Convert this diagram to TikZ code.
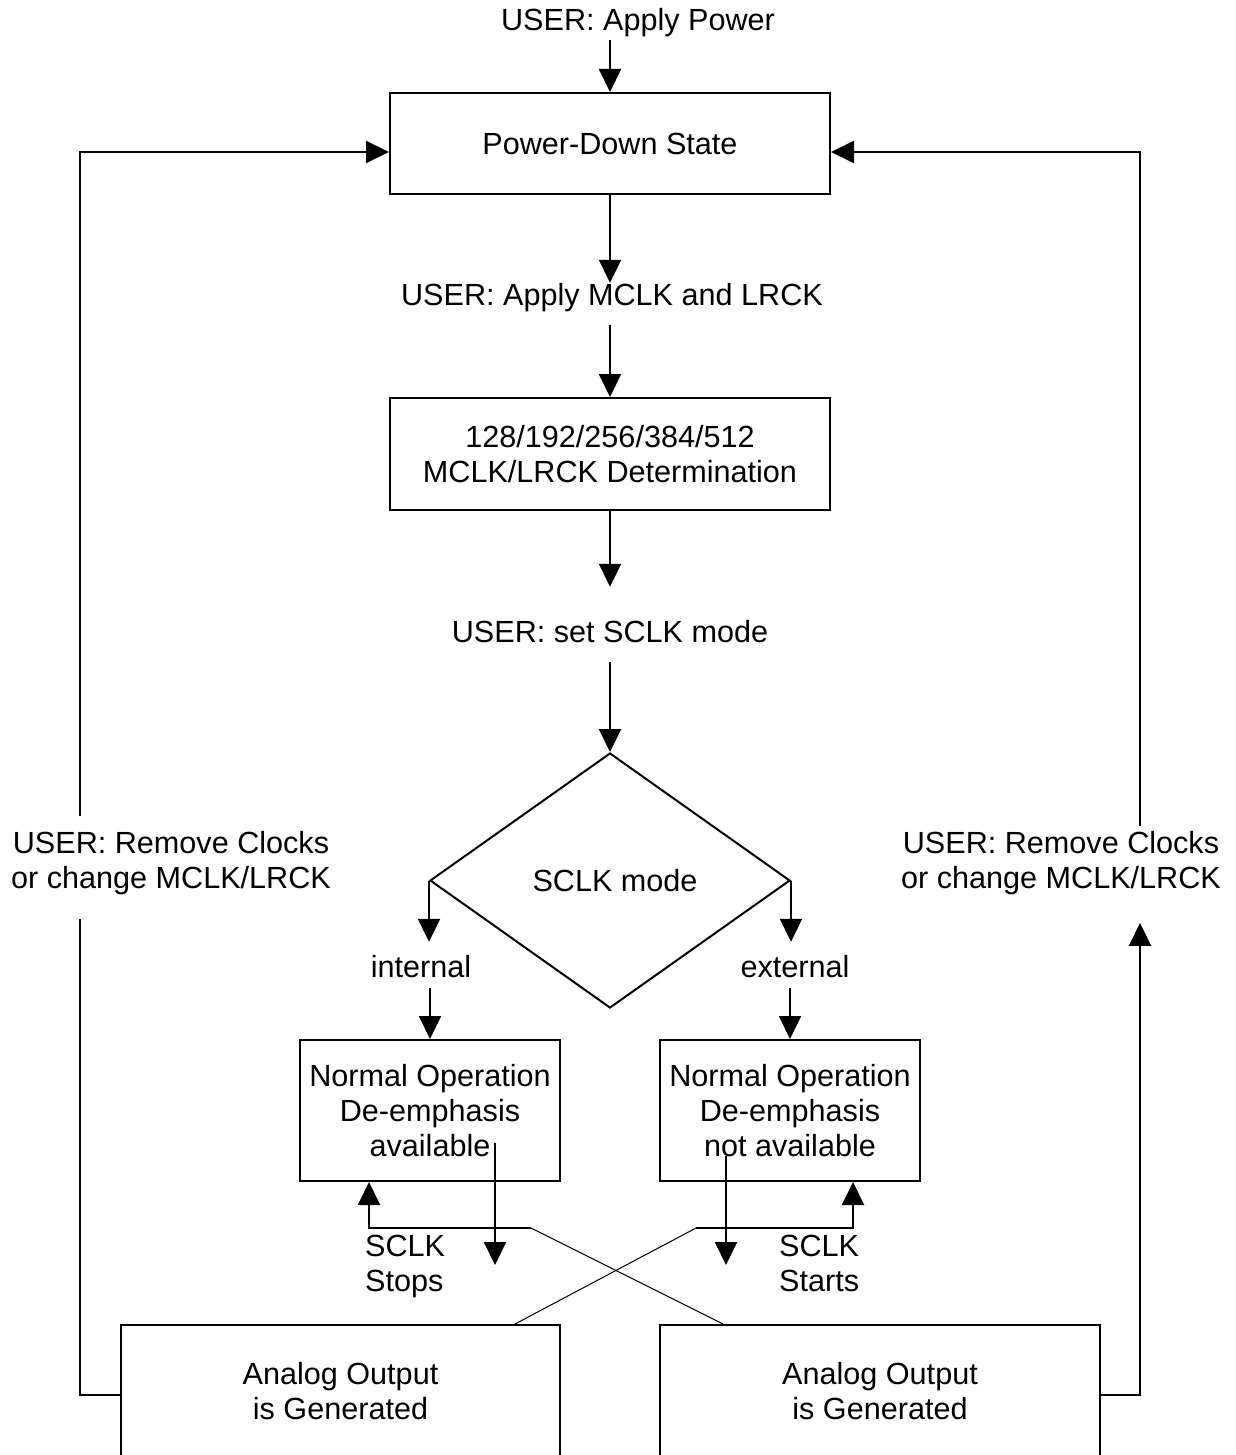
\documentclass[tikz,border=0pt]{standalone}
\usepackage{fontspec}
\setmainfont{Liberation Sans}
\usetikzlibrary{arrows.meta,shapes.geometric,calc}
\begin{document}
\begin{tikzpicture}[x=1pt,y=-1pt,
  every node/.style={font=\fontsize{30.6}{35}\selectfont},
  lbl/.style={inner sep=0pt, text height=22pt, text depth=0pt},
  ml/.style={inner sep=0pt, align=center},
  box/.style={draw, line width=2pt, inner sep=2pt, align=center},
  con/.style={line width=2pt},
  arr/.style={con, -{Triangle[width=22pt,length=23pt]}},
  fine/.style={line width=1pt}]
\fill[white] (0,0) rectangle (1235,1455);
\path[use as bounding box] (0,0) rectangle (1235,1455);
\clip (0,0) rectangle (1235,1455);
\coordinate (lx) at (80,0);
\coordinate (rx) at (1140,0);
% nodes
\node[lbl] (top) at (638,20) {USER: Apply Power};
\node[box, minimum width=440pt, minimum height=101pt] (pd) at (610,143.5) {Power-Down State};
\node[lbl] (l2) at (612,294) {USER: Apply MCLK and LRCK};
\node[box, minimum width=440pt, minimum height=112pt] (det) at (610,454) {128/192/256/384/512\\MCLK/LRCK Determination};
\node[lbl] (l3) at (610,631) {USER: set SCLK mode};
\node[draw, diamond, line width=2pt, inner sep=0pt, minimum width=360pt, minimum height=255pt] (dm) at (610,880.5) {\hspace*{10pt}SCLK mode};
\node[lbl] (int) at (421,966) {internal};
\node[lbl] (ext) at (795,966) {external};
\node[box, minimum width=260pt, minimum height=141pt] (nl) at (430,1110.5) {Normal Operation\\De-emphasis\\available};
\node[box, minimum width=260pt, minimum height=141pt] (nr) at (790,1110.5) {Normal Operation\\De-emphasis\\not available};
\node[ml, anchor=north west, align=left] (stp) at (365,1235) {SCLK\\Stops};
\node[ml, anchor=north west, align=left] (sta) at (779,1235) {SCLK\\Starts};
\node[box, minimum width=439pt, minimum height=133pt] (al) at (340.5,1391.5) {Analog Output\\is Generated};
\node[box, minimum width=440pt, minimum height=133pt] (ar) at (880,1391.5) {Analog Output\\is Generated};
\node[ml] (lrm) at (171,863) {USER: Remove Clocks\\or change MCLK/LRCK};
\node[ml] (rrm) at (1061,863) {USER: Remove Clocks\\or change MCLK/LRCK};
% main flow
\draw[arr, shorten <=9pt] (top.south -| pd.north) -- (pd.north);
\draw[arr] (pd.south) -- (pd.south |- l2.north);
\draw[arr, shorten <=20pt] (l2.south -| det.north) -- (det.north);
\draw[arr, shorten >=33pt] (det.south) -- (det.south |- l3.north);
\draw[arr, shorten <=20pt] (l3.south -| dm.north) -- (dm.north);
\draw[arr, shorten >=13pt] (dm.west) -- (dm.west |- int.north);
\draw[arr, shorten <=11pt] (int.south -| nl.north) -- (nl.north);
\draw[arr, shorten >=13pt] (dm.east) -- (dm.east |- ext.north);
\draw[arr, shorten <=11pt] (ext.south -| nr.north) -- (nr.north);
% SCLK stop / start
\coordinate (dL1) at (495,1143); \coordinate (dL2) at (495,1265);
\draw[arr] (dL1) -- (dL2);
\coordinate (dR1) at (726,1156); \coordinate (dR2) at (726,1265);
\draw[arr] (dR1) -- (dR2);
\coordinate (uL) at (369,1228); \coordinate (cL) at (531,1228);
\draw[arr] (cL) -- (uL) -- (uL |- nl.south);
\draw[fine] (cL) -- ($(ar.north west)+(64,0)$);
\coordinate (uR) at (853,1228); \coordinate (cR) at (696,1228);
\draw[arr] (cR) -- (uR) -- (uR |- nr.south);
\draw[fine] (cR) -- ($(al.north east)+(-46,0)$);
% loops
\draw[con] ($(al.west)+(0,3.5)$) -| ($(lrm.south -| lx)+(0,24)$);
\draw[arr] ($(lrm.north -| lx)+(0,-15)$) |- ($(pd.west)+(0,8.5)$);
\draw[arr] ($(ar.east)+(0,3.5)$) -| ($(rrm.south -| rx)+(0,28)$);
\draw[arr] ($(rrm.north -| rx)+(0,-5)$) |- ($(pd.east)+(0,8.5)$);
\end{tikzpicture}
\end{document}
